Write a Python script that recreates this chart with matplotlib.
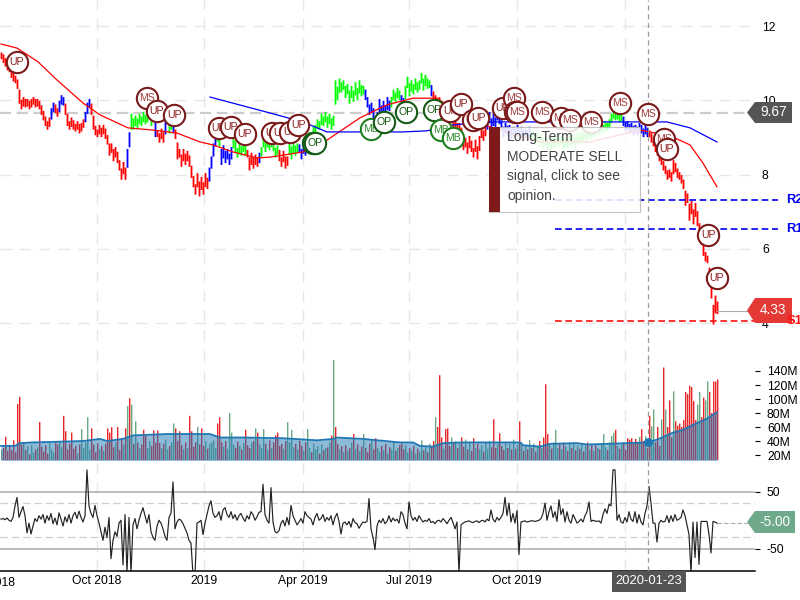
import matplotlib

matplotlib.use("Agg")
import matplotlib.pyplot as plt
import numpy as np
from matplotlib.patches import Polygon, Rectangle

plt.rcParams["font.family"] = ["Liberation Sans", "DejaVu Sans"]
plt.rcParams["axes.unicode_minus"] = False

# Price, one entry per session
price = [
    11.2, 11.1, 11.0, 10.9, 10.85, 10.7, 10.6, 10.55, 10.4, 10.0,
    9.85, 10.0, 9.9, 9.95, 9.85, 9.95, 10.0, 9.9, 9.95, 9.85,
    9.7, 9.55, 9.4, 9.3, 9.45,
    9.7, 9.85,
    9.75, 9.65,
    9.9, 10.05, 9.95,
    9.7, 9.4, 9.3, 9.45, 9.3, 9.25, 9.35, 9.2, 9.3, 9.4,
    9.6, 9.85, 9.95,
    9.7, 9.3, 9.15, 9.1, 9.25, 9.1, 9.25, 9.05,
    8.9, 8.6, 8.75, 8.45, 8.65, 8.4, 8.2, 7.95, 8.25, 7.95,
    8.6, 9.05,
    9.55, 9.3, 9.5, 9.35, 9.55, 9.4, 9.6, 9.45, 9.55, 9.7, 9.4, 9.65,
    9.1,
    9.1, 8.95, 9.15, 8.95,
    9.4,
    9.55, 9.2, 9.4,
    9.2,
    9.05, 8.5, 8.6, 8.3, 8.6, 8.35, 8.55, 8.3, 8.0, 7.75,
    7.55, 7.95, 7.5, 7.85, 7.55, 7.95, 7.7,
    8.1, 8.4, 8.75, 8.95,
    9.0, 8.85,
    8.35, 8.7, 8.4, 8.6, 8.35, 8.65,
    8.95, 8.7, 8.55, 8.75, 8.6, 8.8, 8.6,
    8.55, 8.2, 8.5, 8.25, 8.45, 8.3,
    8.5,
    8.65, 9.0, 8.7, 8.95, 8.75, 8.9, 8.72, 8.55, 8.7,
    8.45, 8.3, 8.55, 8.25, 8.4,
    8.85, 8.5, 8.8, 8.6, 8.75,
    8.7, 8.5, 8.8, 8.6,
    8.85, 9.05, 8.95, 9.2, 9.25, 9.4, 9.3, 9.55, 9.4, 9.6, 9.35, 9.55, 9.3, 9.5,
    10.45, 10.1, 10.5, 10.3, 10.45, 10.15, 10.35, 10.0, 10.3, 10.05, 10.4, 10.1, 10.45, 10.2, 10.3,
    10.1, 9.9, 9.7, 9.85, 9.55, 9.4, 9.6, 9.95, 9.6, 9.9, 9.65, 10.0, 9.8,
    10.0, 10.2, 10.05, 10.25, 10.1,
    10.0, 9.95,
    10.3, 10.55, 10.2, 10.45, 10.25, 10.5, 10.3, 10.45, 10.65, 10.35, 10.6, 10.4, 10.45,
    10.2,
    10.1, 10.0, 9.9, 10.0, 9.7, 9.85, 9.55, 9.7, 9.4, 9.55, 9.25, 9.45, 9.15, 9.3,
    9.05, 8.75, 8.9, 8.65, 8.95, 8.7, 8.55, 8.85, 8.5, 8.95, 9.2, 9.0, 9.25,
    9.35, 9.6, 9.25, 9.55, 9.35, 9.75, 9.45,
    9.3, 9.1, 9.3, 9.15, 9.25, 9.05, 9.2, 9.1, 9.25, 9.1, 9.2, 9.0, 9.15, 9.05, 9.2,
    9.0, 9.1, 8.9, 9.05, 8.85, 9.0, 8.8, 8.95, 8.75, 8.9, 8.75, 8.95, 8.8, 9.0, 8.85, 8.95, 8.75, 8.9, 8.8, 8.95,
    8.85, 9.0, 8.8, 9.05, 8.9, 9.1, 8.95, 9.15, 9.0, 9.2, 9.05, 9.25, 9.1, 9.3, 9.15, 9.3, 9.2, 9.35, 9.25, 9.4,
    9.55, 9.65, 9.55, 9.6, 9.5, 9.55,
    9.4, 9.25, 9.35, 9.2, 9.3, 9.15, 9.25, 9.15, 9.3, 9.2, 9.1, 9.25, 9.1,
    9.1, 8.95, 8.85, 8.7, 8.6, 8.45, 8.35, 8.2, 8.1, 7.95, 8.05, 7.9, 8.3, 8.15, 8.0, 7.95, 7.85,
    7.7, 7.25, 7.4, 6.85, 7.2, 6.75, 7.15, 6.7, 6.5, 6.2, 5.9, 5.75, 5.7, 5.1, 4.75, 4.05, 4.65, 4.33,
]
run_lengths = [25, 2, 2, 3, 10, 3, 18, 2, 12, 1, 4, 1, 3, 1, 17, 4, 2, 6, 7, 6, 1, 9, 5, 5, 4,
               29, 13, 5, 2, 13, 1, 27, 22, 20, 20, 6, 13, 35]
run_trends = ["r", "b", "r", "b", "r", "b", "r", "b", "g", "b", "r", "b", "g", "b", "r", "b",
              "g", "b", "g", "r", "b", "g", "r", "g", "b", "g", "b", "g", "b", "g", "b", "r",
              "b", "g", "g", "g", "b", "r"]

# Moving averages on price (session, value)
fast_days = [0, 8, 18.5, 28, 41, 49.5, 63.5, 76, 88, 99.5, 106, 116, 128, 134.5, 151, 163, 179.5,
             193, 206, 218, 234.5, 249.5, 269.5, 294.5, 319.5, 324.5, 336, 344.5, 351, 358]
fast_ma = [11.52, 11.41, 11.04, 10.55, 9.93, 9.61, 9.26, 9.20, 9.12, 8.88, 8.80, 8.61, 8.45, 8.47,
           8.61, 8.93, 9.53, 9.88, 10.06, 10.06, 9.47, 9.20, 8.88, 8.88, 9.20, 9.15, 9.01, 8.80,
           8.31, 7.67]
slow_days = [104.5, 134.5, 151, 163, 176, 201, 213, 226, 244.5, 316, 333, 344.5, 358]
slow_ma = [10.09, 9.66, 9.42, 9.15, 9.15, 9.15, 9.18, 9.34, 9.42, 9.42, 9.42, 9.26, 8.88]

# Signal bubbles
signal_days = [8, 73, 78, 86.5, 109, 115, 122, 135.5, 139.5, 144.5, 148.5, 156, 157, 185, 191.5,
               202.5, 216.5, 220, 224.5, 226, 230, 236, 238.5, 251, 256.5, 257, 258, 270.5, 280,
               284.5, 295, 309.5, 323.5, 331.5, 333, 353.5, 358]
signal_prices = [11.04, 10.06, 9.71, 9.61, 9.26, 9.28, 9.09, 9.12, 9.12, 9.15, 9.34, 8.85, 8.85,
                 9.23, 9.42, 9.69, 9.74, 9.20, 9.71, 8.99, 9.90, 9.47, 9.53, 9.80, 10.06, 9.69,
                 9.69, 9.69, 9.53, 9.47, 9.42, 9.93, 9.63, 8.96, 8.69, 6.37, 5.21]
signal_names = ["UP", "MS", "UP", "UP", "UP", "UP", "UP", "UP", "UP", "UP", "UP", "OP", "OP",
                "MB", "OP", "OP", "OP", "MB", "UP", "MB", "UP", "UP", "UP", "UP", "MS", "MS",
                "MS", "MS", "MS", "MS", "MS", "MS", "MS", "MS", "UP", "UP", "UP"]

# Support and resistance
level_names = ["R2", "R1", "S1"]
level_values = [7.32, 6.53, 4.05]

# Volume in millions
volume = [
    28, 30, 46, 26, 33, 27, 41, 24, 93, 103,
    35, 38, 27, 33, 21, 34, 24, 28, 31, 67,
    32, 25, 34, 22, 37, 28, 24, 38, 35, 40,
    31, 76, 54, 28, 36, 52, 29, 33, 22, 35,
    57, 30, 38, 74, 28, 58, 35, 24, 37, 28,
    33, 26, 36, 58, 52, 60, 31, 38, 60, 27,
    44, 35, 58, 90, 101, 92, 36, 68, 38, 30,
    35, 56, 48, 30, 40, 33, 55, 38, 55, 37,
    30, 36, 42, 28, 33, 38, 65, 58, 40, 54,
    34, 28, 38, 30, 76, 54, 32, 38, 60, 35,
    58, 33, 40, 29, 36, 38, 41, 30, 65, 74,
    38, 32, 40, 29, 80, 52, 35, 30, 39, 33,
    28, 37, 56, 34, 30, 38, 40, 58, 52, 35,
    30, 57, 36, 27, 41, 30, 38, 48, 52, 33,
    36, 29, 40, 67, 38, 56, 31, 36, 28, 40,
    33, 26, 38, 57, 30, 24, 36, 28, 33, 22,
    35, 27, 30, 31, 38, 48, 160, 60, 36, 28,
    33, 24, 34, 26, 30, 38, 50, 29, 35, 26,
    32, 50, 30, 24, 36, 42, 28, 44, 30, 25,
    33, 27, 36, 22, 31, 28, 38, 26, 30, 34,
    36, 28, 34, 24, 30, 26, 33, 22, 29, 25,
    41, 27, 31, 24, 36, 33, 40, 74, 60, 134,
    45, 29, 57, 58, 33, 45, 38, 40, 30, 36,
    45, 32, 42, 28, 38, 26, 44, 30, 36, 28,
    34, 25, 38, 29, 40, 31, 71, 30, 36, 51,
    33, 27, 38, 30, 36, 28, 42, 29, 35, 68,
    38, 26, 34, 28, 41, 30, 36, 25, 33, 40,
    30, 45, 121, 50, 35, 29, 38, 56, 30, 36,
    28, 38, 32, 26, 36, 30, 38, 27, 34, 29,
    36, 25, 33, 38, 28, 35, 26, 34, 30, 28,
    36, 50, 31, 27, 38, 47, 52, 56, 33, 29,
    35, 38, 27, 44, 42, 44, 36, 43, 38, 46,
    57, 40, 47, 30, 76, 61, 85, 38, 60, 33,
    71, 145, 85, 60, 98, 45, 111, 68, 62, 65,
    60, 70, 110, 107, 119, 117, 97, 70, 92, 110,
    74, 102, 98, 125, 110, 80, 125, 125, 128,
]
vol_green_days = [40, 43, 63, 65, 67, 86, 98, 114, 127, 131, 143, 145, 153, 166, 217, 277, 301,
                  306, 325, 326, 330, 332, 336, 348, 349, 352, 353]
vol_red_days = [8, 9, 19, 31, 32, 35, 45, 53, 55, 58, 62, 64, 71, 76, 78, 87, 89, 94, 95, 100, 108,
                109, 122, 137, 138, 165, 167, 219, 222, 223, 246, 249, 259, 272, 307, 313, 315,
                317, 320, 324, 328, 331, 334, 337, 339, 340, 341, 342, 343, 344, 345, 346, 347,
                350, 351, 354, 355, 356, 357, 358]
vol_avg_days = [0, 7, 9.5, 16, 41, 49.5, 53, 61, 66, 83, 104.5, 109.5, 121, 141, 158, 166, 168, 181,
                199.5, 206, 209.5, 216, 221, 231, 259.5, 261, 269.5, 274.5, 288, 293, 313, 323.5,
                328, 336, 341, 346, 353, 358]
vol_avg = [33, 33, 37, 38, 40, 43, 40, 43, 48, 50, 50, 45, 45, 44, 41, 43, 45, 43, 38, 38, 33, 32,
           37, 38, 38, 34, 32, 36, 37, 35, 37, 38, 42, 52, 56, 63, 72, 81]

# Oscillator, one entry per session
osc = [
    2, 3, 1, 4, 0, -2, 5, 25, 40, 5,
    15, 24, 8, -22, -5, -24, -10, 3, -2, 8,
    2, 10, -5, 8, 0, 12, -6, 4, -8, 13,
    2, -10, 6, -3, 10, -5, 8, 14, 3, 16,
    5, -3, 8, 88, 25, 12, 5, 26, 8, -5,
    -20, -35, -12, -30, 5, -67, -35, -20, -28, -5,
    0, -78, 10, -92, 5, -92, -8, 3, -15, 0,
    12, 22, 8, -5, 10, -20, -30, -35, -10, 0,
    -5, -15, -28, -35, 5, 12, 67, -15, -3, 2,
    0, -6, -14, -22, -35, -40, -95, -95, -5, -3,
    0, -25, -5, 10, 25, 34, 12, 5, 8, 15,
    0, 18, 22, 10, 5, 15, 3, 10, 0, 8,
    12, 4, -2, 8, 2, 15, 10, 0, 6, 14,
    15, 63, 10, 0, -5, 57, -3, -20, -22, -18,
    -5, 0, -10, 5, -8, 26, 8, 0, -8, -3,
    3, -5, 15, 8, 5, 2, -8, 5, 12, 0,
    3, 10, -2, 5, 0, 8, -8, 5, 12, -2,
    -24, -5, -3, -8, -2, -12, 3, -4, -6, -14,
    -8, -3, -4, -2, 38, -15, -30, -51, -10, 0,
    -4, 3, -6, -2, 8, -3, 4, -1, 2, -5,
    15, 10, -5, -15, 32, 8, 0, 5, -2, 8,
    2, -3, 0, -2, 3, -4, -2, -6, -1, 0,
    -3, 3, -1, -6, 0, 5, -4, -15, -3, -92,
    -8, -5, -3, -2, -1, -3, -4, -2, -1, -4,
    -1, 0, -3, 2, -1, 18, 2, -3, 5, 0,
    5, 12, 40, 8, 30, -3, 12, -5, 17, -60,
    -3, -2, -1, -3, -2, -1, -1, -2, -1, 0,
    3, 12, 30, 0, 15, 25, 5, 15, -2, 36,
    10, 20, -3, 15, 0, -5, 10, 3, -5, -2,
    2, -3, 8, 15, 32, -2, 0, -1, -2, -1,
    -5, 10, 20, 12, 28, 25, 88, 88, 0, 10,
    -3, -5, 5, -3, 15, 2, -2, 15, -5, 10,
    -3, -8, 12, 25, 59, 30, -5, -5, -38, -5,
    0, -3, -2, 8, -4, 8, -2, 10, 0, 2,
    5, 18, 8, -8, -25, -92, -3, -65, -3, -77,
    -2, -2, -2, -2, -25, -57, -2, -3, -5,
]

tick_days = [48, 101.5, 151, 204, 258, 312]
tick_names = ["Oct 2018", "2019", "Apr 2019", "Jul 2019", "Oct 2019", ""]
price_ticks = [4, 6, 8, 10, 12]
vol_ticks = [20, 40, 60, 80, 100, 120, 140]
vol_tick_names = ["20M", "40M", "60M", "80M", "100M", "120M", "140M"]
osc_ticks = [-50, 50]

cursor_day = 323.5
cursor_price = 9.67
cursor_vol = 38
last_price = 4.33
last_osc = -5.0

trend_colors = {"r": "#ff0000", "g": "#00ff00", "b": "#0000ff"}
signal_styles = {
    "UP": ("#7a1a1a", "#8b1a1a"),
    "MS": ("#7a1a1a", "#a03c3c"),
    "MB": ("#1f7f1f", "#2e8b2e"),
    "OP": ("#145a14", "#145a14"),
}


def px_axes(left, top, right, bottom):
    return fig.add_axes([left / 800, 1 - bottom / 600, (right - left) / 800, (bottom - top) / 600])


def to_fig(points):
    return [(x / 800, 1 - y / 600) for x, y in points]


def tag(left, top, bottom, right, color, label):
    # arrow shaped value box on the right edge
    mid = (top + bottom) / 2
    shape = [(left, mid), (left + 8, top), (right, top), (right, bottom), (left + 8, bottom)]
    fig.add_artist(Polygon(to_fig(shape), closed=True, facecolor=color, edgecolor="none",
                           transform=fig.transFigure))
    fig.text((left + 8 + right) / 2 / 800, 1 - mid / 600, label, color="white", fontsize=9.8,
             ha="center", va="center")


fig = plt.figure(figsize=(8, 6), dpi=100)
ax_price = px_axes(0, 0, 755, 360)
ax_vol = px_axes(0, 360, 755, 460)
ax_osc = px_axes(0, 460, 755, 571)

for ax in (ax_price, ax_vol, ax_osc):
    ax.set_xlim(-0.5, 377)
    ax.set_xticks(tick_days)
    ax.set_axisbelow(True)
    ax.grid(axis="x", color="#e6e6e6", linewidth=1, dashes=(8, 6))
    ax.tick_params(axis="x", length=0)
    ax.yaxis.tick_right()
    for spine in ax.spines.values():
        spine.set_visible(False)
    ax.axvline(cursor_day, color="#9a9a9a", linewidth=0.9, dashes=(4, 3), zorder=4)
    ax.patch.set_alpha(0)

# price panel
days = np.arange(len(price))
values = np.array(price)
prev = np.concatenate(([values[0]], values[:-1]))
middle = (values + prev) / 2
trend = np.repeat(run_trends, run_lengths)
bar_colors = [trend_colors[t] for t in trend]

ax_price.set_ylim(3.003, 12.706)
ax_price.set_yticks(price_ticks)
ax_price.set_xticklabels([])
ax_price.tick_params(axis="y", length=0, pad=5, labelsize=8.7)
ax_price.grid(axis="y", color="#e6e6e6", linewidth=1, dashes=(8, 6))
ax_price.axhline(cursor_price, color="#cccccc", linewidth=1.6, dashes=(5, 2.5), zorder=1.5)

# each bar runs from halfway to the last session down past its own value
price_bars = ax_price.vlines(days + 0.25, np.minimum(values, middle) - 0.09,
                             np.maximum(values, middle) + 0.09,
                             colors=bar_colors, linewidth=1.3, zorder=2)
price_bars.set_snap(False)
ax_price.plot(fast_days, fast_ma, color="#ff0000", linewidth=0.9, zorder=3)
ax_price.plot(slow_days, slow_ma, color="#0000ff", linewidth=0.9, zorder=3)

ax_price.plot([len(price) - 1, 373], [last_price, last_price], color="#aaaaaa", linewidth=0.8)

for k, (day, value, name) in enumerate(zip(signal_days, signal_prices, signal_names)):
    edge, ink = signal_styles[name]
    ax_price.scatter([day], [value], s=235, facecolor="white", edgecolor=edge, linewidth=1.5,
                     zorder=5 + k * 0.02)
    ax_price.text(day, value, name, color=ink, fontsize=7.6, ha="center", va="center",
                  zorder=5.01 + k * 0.02)

for name, value in zip(level_names, level_values):
    color = "#ff1010" if name == "S1" else "#0000ee"
    ax_price.plot([277, 388.5], [value, value], color=color, linewidth=1.2, dashes=(4, 2.2),
                  clip_on=False, zorder=3)

# volume panel
vol = np.array(volume)
vol_green = values >= prev
vol_green[vol_green_days] = True
vol_green[vol_red_days] = False
ax_vol.set_ylim(12.9, 155.7)
ax_vol.set_yticks(vol_ticks)
ax_vol.set_yticklabels(vol_tick_names)
ax_vol.set_xticklabels([])
ax_vol.tick_params(axis="y", length=3.6, width=0.8, pad=5, labelsize=8.7)
vol_bars = ax_vol.bar(days, vol, width=0.7, align="edge", linewidth=0,
                      color=["#69a882" if g else "#e8262a" for g in vol_green], zorder=2)
for bar in vol_bars:
    bar.set_snap(False)
ax_vol.fill_between(vol_avg_days, vol_avg, 0, color="#1f77b4", alpha=0.5, linewidth=0, zorder=3)
ax_vol.plot(vol_avg_days, vol_avg, color="#1f77b4", linewidth=1.3, zorder=3)
ax_vol.scatter([cursor_day], [cursor_vol], s=28, color="#1f77b4", zorder=5)

# oscillator panel
ax_osc.set_ylim(-88.5, 105.2)
ax_osc.set_yticks(osc_ticks)
ax_osc.set_xticklabels(tick_names)
ax_osc.tick_params(axis="y", length=3.6, width=0.8, pad=5, labelsize=8.7)
ax_osc.tick_params(axis="x", pad=3, labelsize=8.7)
ax_osc.spines["bottom"].set_visible(True)
ax_osc.spines["bottom"].set_linewidth(1.1)
for level in osc_ticks:
    ax_osc.axhline(level, color="#bdbdbd", linewidth=1.4, zorder=1.5)
for level in (-30, 30):
    ax_osc.axhline(level, color="#cfcfcf", linewidth=0.9, dashes=(6, 3), zorder=1.5)
osc_line = np.clip(osc, -200, 90)
ax_osc.plot(days, osc_line, color="#222222", linewidth=0.85, zorder=3)
ax_osc.plot([len(osc) - 1, 373], [last_osc, last_osc], color="#aaaaaa", linewidth=0.8,
            dashes=(4, 2))
ax_osc.text(-4.5, -0.055, "Jul 2018", transform=ax_osc.get_xaxis_transform(), fontsize=8.7,
            ha="center", va="top")

# value tags
tag(747, 102, 123, 792, "#555555", "9.67")
tag(747, 298, 323, 792, "#e53935", "4.33")
tag(747, 511, 533, 795, "#6fa98a", "-5.00")

# level names sit over the tags
for name, value in zip(level_names, level_values):
    color = "#ff1010" if name == "S1" else "#0000ee"
    fig.text(392.7, value, name, color=color, fontsize=9.4, fontweight="bold", va="center",
             transform=ax_price.transData)

# date box under the cursor
fig.add_artist(Rectangle((612 / 800, 1 - 592 / 600), 74 / 800, 21 / 600, facecolor="#555555",
                         edgecolor="none", transform=fig.transFigure))
fig.text(649 / 800, 1 - 581.5 / 600, "2020-01-23", color="white", fontsize=9.4, ha="center",
         va="center")

# tooltip
fig.add_artist(Rectangle((489 / 800, 1 - 212 / 600), 151 / 800, 85 / 600, facecolor="white",
                         edgecolor="#bbbbbb", linewidth=0.8, alpha=0.87,
                         transform=fig.transFigure))
fig.add_artist(Rectangle((489 / 800, 1 - 212 / 600), 11 / 800, 85 / 600, facecolor="#7f1a1a",
                         edgecolor="none", transform=fig.transFigure))
fig.text(507 / 800, 1 - 166.5 / 600, "Long-Term\nMODERATE SELL\nsignal, click to see\nopinion.",
         color="#444444", fontsize=10, ha="left", va="center", linespacing=1.52)

fig.savefig("out.png", dpi=100)
